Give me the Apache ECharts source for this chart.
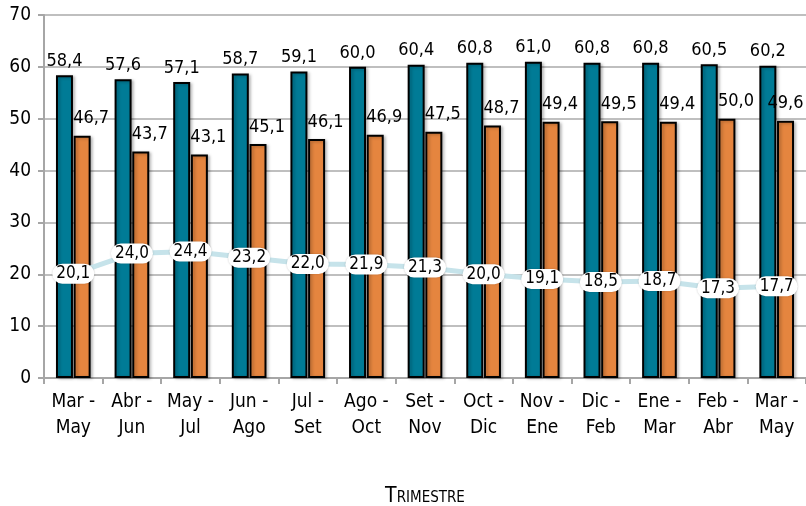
<!DOCTYPE html>
<html><head><meta charset="utf-8">
<script src="https://cdn.jsdelivr.net/npm/echarts@6/dist/echarts.min.js"></script>
<style>html,body{margin:0;padding:0;background:#fff}#c{width:806px;height:506px}</style>
</head><body><div id="c"></div>
<script>
const categories = ['Mar -\nMay','Abr -\nJun','May -\nJul','Jun -\nAgo','Jul -\nSet','Ago -\nOct','Set -\nNov','Oct -\nDic','Nov -\nEne','Dic -\nFeb','Ene -\nMar','Feb -\nAbr','Mar -\nMay'];
const serieA = [58.4,57.6,57.1,58.7,59.1,60.0,60.4,60.8,61.0,60.8,60.8,60.5,60.2];
const serieB = [46.7,43.7,43.1,45.1,46.1,46.9,47.5,48.7,49.4,49.5,49.4,50.0,49.6];
const serieC = [20.1,24.0,24.4,23.2,22.0,21.9,21.3,20.0,19.1,18.5,18.7,17.3,17.7];
const yTicks = {min:0, max:70, interval:10};
const FONT = '"DejaVu Sans Condensed","Liberation Sans Narrow",sans-serif';
const fmt = p => p.value.toFixed(1).replace('.', ',');
const lastIdx = serieB.length - 1;
const serieBItems = serieB.map((v, i) => ({value: v, label: {offset: [i === lastIdx ? 0 : 9, 0]}}));
const chart = echarts.init(document.getElementById('c'));
chart.setOption({
  animation:false,
  grid:{left:44,right:0,top:15,bottom:128,containLabel:false,outerBoundsMode:'none'},
  xAxis:{type:'category',data:categories,
    name:'Trimestre',nameLocation:'middle',nameGap:108,
    nameTextStyle:{fontFamily:FONT,fontSize:21,color:'#000',fontStyle:'small-caps'},
    axisLine:{lineStyle:{color:'#a6a6a6',width:2}},
    axisTick:{show:true,alignWithLabel:false,length:6,lineStyle:{color:'#a6a6a6',width:2}},
    axisLabel:{fontFamily:FONT,fontSize:19,color:'#000',lineHeight:26,margin:11,interval:0}
  },
  yAxis:{type:'value',min:yTicks.min,max:yTicks.max,interval:yTicks.interval,
    axisLine:{show:true,lineStyle:{color:'#a6a6a6',width:2}},
    axisTick:{show:true,length:6,lineStyle:{color:'#a6a6a6',width:2}},
    splitLine:{lineStyle:{color:'#bfbfbf',width:2}},
    axisLabel:{fontFamily:FONT,fontSize:19,color:'#000',margin:13}
  },
  series:[
    {type:'bar',data:serieA,barWidth:17,barGap:'4%',
     itemStyle:{color:'#007B96',borderColor:'#000',borderWidth:2,shadowColor:'rgba(0,0,0,0.25)',shadowBlur:3,shadowOffsetX:2,shadowOffsetY:1},
     label:{show:true,position:'top',distance:5,formatter:fmt,fontFamily:FONT,fontSize:18,color:'#000'}},
    {type:'bar',data:serieBItems,barWidth:17,
     itemStyle:{color:'#E5853F',borderColor:'#000',borderWidth:2,shadowColor:'rgba(0,0,0,0.25)',shadowBlur:3,shadowOffsetX:2,shadowOffsetY:1},
     label:{show:true,position:'top',distance:8,formatter:fmt,fontFamily:FONT,fontSize:18,color:'#000'}},
    {type:'line',data:serieC,symbol:'circle',symbolSize:2,
     lineStyle:{color:'#C6E3EA',width:5},itemStyle:{color:'#C6E3EA'},
     label:{show:true,position:'inside',formatter:fmt,fontFamily:FONT,fontSize:17,color:'#000',
       backgroundColor:'#fff',borderRadius:10,padding:[2,4,1,4],
       shadowColor:'rgba(0,0,0,0.2)',shadowBlur:2}}
  ]
});
</script></body></html>
